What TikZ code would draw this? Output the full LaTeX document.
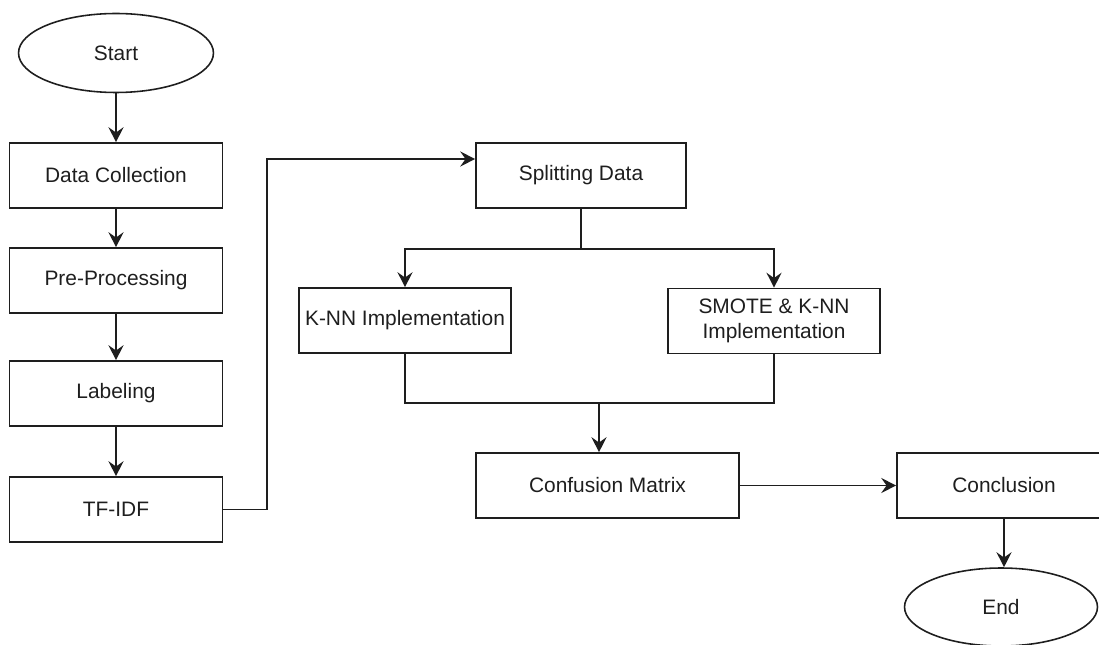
\documentclass[tikz,border=0pt]{standalone}
\usepackage{fontspec}
\setmainfont{Liberation Sans}
\usetikzlibrary{shapes.geometric,arrows.meta,calc}

\definecolor{cor_linha}{HTML}{1E1E1E}

\begin{document}
\begin{tikzpicture}[x=0.02cm, y=-0.02cm]
        \tikzset{
            caixa/.style={
                draw=cor_linha,
                line width=0.9pt,
                minimum width=#1*0.02cm,
                minimum height=1.3cm,
                inner sep=0pt,
                font=\fontsize{11.9}{14.5}\selectfont,
                text=cor_linha,
                align=center
            },
            caixa/.default=213,
            oval/.style={
                draw=cor_linha,
                line width=0.9pt,
                ellipse,
                minimum width=3.9cm,
                minimum height=1.58cm,
                inner sep=0pt,
                font=\fontsize{11.9}{14.5}\selectfont,
                text=cor_linha
            },
            seta/.style={
                draw=cor_linha,
                line width=1.1pt,
                -{Stealth[length=8.5pt, width=8.5pt, inset=3pt]}
            },
            linha/.style={
                draw=cor_linha,
                line width=0.9pt
            }
        }
        \clip (0,0) rectangle (1099,645);

        %coluna da esquerda
        \node[oval] (start) at (116,53) {Start};
        \node[caixa] (datacol) at (116,175.5) {Data Collection};
        \node[caixa] (preproc) at (116,280.5) {Pre-Processing};
        \node[caixa] (label) at (116,393.5) {Labeling};
        \node[caixa] (tfidf) at (116,509.5) {TF-IDF};

        %parte da direita
        \node[caixa=210] (split) at (581,175.5) {Splitting Data};
        \node[caixa=212] (knn) at (405,320.5) {K-NN Implementation};
        \node[caixa=212] (smote) at (774,321) {SMOTE \& K-NN\\Implementation};
        \node[caixa=263] (confmat) at (607.5,485.5) {Confusion Matrix};
        \node[caixa=214] (concl) at (1004,485.5) {Conclusion};
        \node[oval, minimum width=3.86cm, minimum height=1.56cm] (finish) at (1001,607) {End};

        \draw[seta] (start) -- (datacol);
        \draw[seta] (datacol) -- (preproc);
        \draw[seta] (preproc) -- (label);
        \draw[seta] (label) -- (tfidf);

        \draw[seta] (tfidf.east) -- ++(44,0) |- ([yshift=0.33cm]split.west);

        %divisao
        \draw[linha] (split.south) -- ++(0,40) coordinate (fork);
        \draw[seta, line width=0.9pt] (fork) -| (knn.north);
        \draw[seta, line width=0.9pt] (fork) -| (smote.north);

        %juncao
        \draw[linha] (knn.south) -- ++(0,49.5) -| (smote.south);
        \coordinate (join) at (599,402.5);
        \draw[seta, line width=1.4pt] (join) -- (join |- confmat.north);

        \draw[seta, line width=0.9pt] (confmat) -- (concl);
        \draw[seta] (concl.south) -- (concl.south |- finish.north);

    \end{tikzpicture}
\end{document}
